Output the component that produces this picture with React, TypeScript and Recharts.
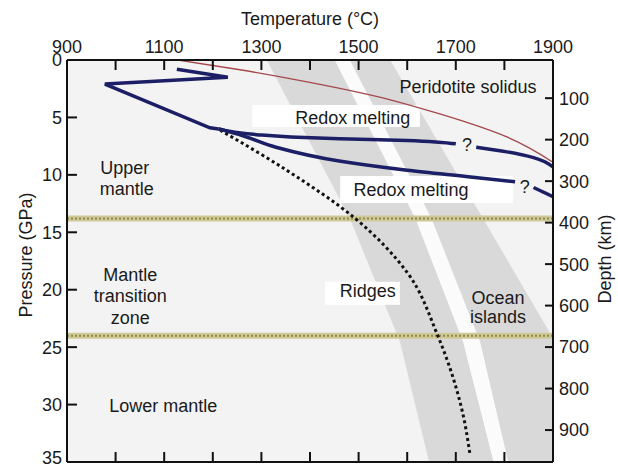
import {
  Area,
  CartesianGrid,
  ComposedChart,
  Label,
  Line,
  ReferenceArea,
  ReferenceDot,
  ReferenceLine,
  XAxis,
  YAxis
} from 'recharts';

const TEMP_TICKS = [900, 1000, 1100, 1200, 1300, 1400, 1500, 1600, 1700, 1800, 1900];
const TEMP_LABELS = [900, 1100, 1300, 1500, 1700, 1900];
const PRESSURE_TICKS = [0, 5, 10, 15, 20, 25, 30, 35];
const DEPTH_TICKS = [100, 200, 300, 400, 500, 600, 700, 800, 900];
const DEPTH_RANGE = [8, 977];

// peridotite solidus (GPa, °C)
const solidus = [
  { p: 0, t: 1128 },
  { p: 0.85, t: 1256 },
  { p: 1.9, t: 1394 },
  { p: 3.1, t: 1530 },
  { p: 4.7, t: 1667 },
  { p: 6.7, t: 1805 },
  { p: 8.9, t: 1900 }
];

// cratonic geotherm up to the branch point
const redoxStem = [
  { p: 0.8, t: 1126 },
  { p: 1.5, t: 1231 },
  { p: 2.1, t: 978 },
  { p: 5.9, t: 1194 },
  { p: 6.0, t: 1212 }
];

const redoxUpperA = [
  { p: 6.0, t: 1212 },
  { p: 6.5, t: 1290 },
  { p: 6.7, t: 1360 },
  { p: 6.85, t: 1460 },
  { p: 7.0, t: 1600 },
  { p: 7.3, t: 1700 }
];
const redoxUpperB = [
  { p: 7.6, t: 1742 },
  { p: 8.0, t: 1805 },
  { p: 8.5, t: 1860 },
  { p: 9.3, t: 1900 }
];

const redoxLowerA = [
  { p: 6.0, t: 1212 },
  { p: 6.6, t: 1262 },
  { p: 7.6, t: 1330 },
  { p: 8.8, t: 1460 },
  { p: 9.6, t: 1600 },
  { p: 10.2, t: 1735 },
  { p: 10.6, t: 1822 }
];
const redoxLowerB = [
  { p: 11.1, t: 1860 },
  { p: 11.9, t: 1900 }
];

const ridgeAdiabat = [
  { p: 6.1, t: 1215 },
  { p: 9.6, t: 1352 },
  { p: 13.8, t: 1493 },
  { p: 18.5, t: 1600 },
  { p: 23.8, t: 1661 },
  { p: 30.9, t: 1715 },
  { p: 34.3, t: 1729 }
];

// shaded mantle potential temperature bands
const bandPressures = [0, 13.8, 24.5, 35];
const ridgeBand = [[1311, 1451], [1482, 1617], [1585, 1715], [1645, 1778]];
const gapBand = [[1451, 1482], [1617, 1650], [1715, 1750], [1778, 1808]];
const islandBand = [[1482, 1565], [1650, 1756], [1750, 1904], [1808, 2050]];

const bands = bandPressures.map((p, i) => ({
  p,
  ridges: ridgeBand[i],
  gap: gapBand[i],
  islands: islandBand[i]
}));

// invisible anchor so the depth axis gets a domain
const depthAnchor = DEPTH_RANGE.map((d) => ({ d, t: 900 }));

const discontinuities = [13.8, 24.0];

const labelBoxes = [
  { t1: 1281, t2: 1626, p1: 3.92, p2: 5.83 },
  { t1: 1462, t2: 1818, p1: 10.1, p2: 12.45 },
  { t1: 1431, t2: 1585, p1: 19.3, p2: 21.3 }
];

const textLabels = [
  { text: 'Peridotite solidus', t: 1725, p: 2.35 },
  { text: 'Redox melting', t: 1488, p: 5.05 },
  { text: 'Redox melting', t: 1608, p: 11.3 },
  { text: 'Ridges', t: 1519, p: 20.1 },
  { text: 'Ocean', t: 1787, p: 20.7 },
  { text: 'islands', t: 1787, p: 22.3 },
  { text: 'Upper', t: 1019, p: 9.4 },
  { text: 'mantle', t: 1023, p: 11.2 },
  { text: 'Mantle', t: 1030, p: 18.7 },
  { text: 'transition', t: 1030, p: 20.5 },
  { text: 'zone', t: 1030, p: 22.4 },
  { text: 'Lower mantle', t: 1098, p: 30.1 },
  { text: '?', t: 1723, p: 7.4 },
  { text: '?', t: 1842, p: 11.05 }
];

const INK = '#1a1a1a';
const NAVY = '#1c1f66';
const axisStroke = { stroke: '#111', strokeWidth: 2 };

const TopTick = (props: any) => {
  const { x, y, payload } = props;
  if (!TEMP_LABELS.includes(payload.value)) return <g />;
  return (
    <text x={x} y={y} textAnchor="middle" fontSize={18} fill={INK}>
      {payload.value}
    </text>
  );
};

const NoTick = () => <g />;

export default function App() {
  return (
    <div style={{ position: 'absolute', left: 0, top: 0, background: '#fff' }}>
      <ComposedChart
        width={618}
        height={468}
        layout="vertical"
        margin={{ top: 0, right: 0, bottom: 0, left: 10 }}
        style={{ fontFamily: '"Liberation Sans", Arial, sans-serif' }}
      >
        <CartesianGrid horizontal={false} vertical={false} fill="#f3f3f3" />
        <XAxis
          xAxisId={0}
          orientation="top"
          type="number"
          domain={[900, 1900]}
          ticks={TEMP_TICKS}
          allowDataOverflow
          height={60}
          tickSize={-10}
          tickMargin={17}
          tick={TopTick}
          axisLine={axisStroke}
          tickLine={axisStroke}
        >
          <Label value="Temperature (°C)" position="insideTop" offset={12} fontSize={18} fill={INK} />
        </XAxis>
        <XAxis
          xAxisId="b"
          orientation="bottom"
          type="number"
          domain={[900, 1900]}
          ticks={TEMP_TICKS}
          allowDataOverflow
          height={6}
          tickSize={-10}
          tick={NoTick}
          axisLine={axisStroke}
          tickLine={axisStroke}
        />
        <YAxis
          yAxisId={0}
          dataKey="p"
          orientation="left"
          type="number"
          domain={[0, 35]}
          ticks={PRESSURE_TICKS}
          allowDataOverflow
          width={57}
          tickSize={-10}
          tickMargin={15}
          tick={{ fontSize: 18, fill: INK }}
          axisLine={axisStroke}
          tickLine={axisStroke}
        >
          <Label value="Pressure (GPa)" angle={-90} position="center" dx={-13} dy={-6} fontSize={18} fill={INK} />
        </YAxis>
        <YAxis
          yAxisId="d"
          dataKey="d"
          orientation="right"
          type="number"
          domain={DEPTH_RANGE}
          ticks={DEPTH_TICKS}
          allowDataOverflow
          width={65}
          tickSize={-8}
          tickMargin={14}
          tick={{ fontSize: 18, fill: INK }}
          axisLine={axisStroke}
          tickLine={axisStroke}
        >
          <Label value="Depth (km)" angle={-90} position="center" dx={19} dy={-2} fontSize={18} fill={INK} />
        </YAxis>

        <Area data={bands} dataKey="ridges" type="linear" stroke="none" fill="#d9d9d9" fillOpacity={1} isAnimationActive={false} />
        <Area data={bands} dataKey="gap" type="linear" stroke="none" fill="#fbfbfb" fillOpacity={1} isAnimationActive={false} />
        <Area data={bands} dataKey="islands" type="linear" stroke="none" fill="#d9d9d9" fillOpacity={1} isAnimationActive={false} />
        <Line data={depthAnchor} dataKey="t" yAxisId="d" stroke="none" dot={false} isAnimationActive={false} />

        {discontinuities.map((p) => (
          <ReferenceLine key={`a${p}`} y={p} stroke="#cfc996" strokeWidth={6} />
        ))}
        {discontinuities.map((p) => (
          <ReferenceLine key={`b${p}`} y={p} stroke="#8e8a52" strokeWidth={2} strokeDasharray="2 2" />
        ))}

        {labelBoxes.map((b, i) => (
          <ReferenceArea key={i} x1={b.t1} x2={b.t2} y1={b.p1} y2={b.p2} fill="#ffffff" fillOpacity={1} stroke="none" />
        ))}

        <Line data={solidus} dataKey="t" type="monotone" stroke="#a4484c" strokeWidth={1.3} dot={false} isAnimationActive={false} />
        <Line data={ridgeAdiabat} dataKey="t" type="monotone" stroke="#111" strokeWidth={3} strokeDasharray="3 3" dot={false} isAnimationActive={false} />
        <Line data={redoxStem} dataKey="t" type="linear" stroke={NAVY} strokeWidth={3.5} dot={false} isAnimationActive={false} />
        <Line data={redoxUpperA} dataKey="t" type="monotone" stroke={NAVY} strokeWidth={3.5} dot={false} isAnimationActive={false} />
        <Line data={redoxUpperB} dataKey="t" type="monotone" stroke={NAVY} strokeWidth={3.5} dot={false} isAnimationActive={false} />
        <Line data={redoxLowerA} dataKey="t" type="monotone" stroke={NAVY} strokeWidth={3.5} dot={false} isAnimationActive={false} />
        <Line data={redoxLowerB} dataKey="t" type="monotone" stroke={NAVY} strokeWidth={3.5} dot={false} isAnimationActive={false} />

        {textLabels.map((l, i) => (
          <ReferenceDot
            key={i}
            x={l.t}
            y={l.p}
            r={0}
            fill="none"
            stroke="none"
            label={{ value: l.text, position: 'center', fontSize: 18, fill: INK }}
          />
        ))}
      </ComposedChart>
    </div>
  );
}
